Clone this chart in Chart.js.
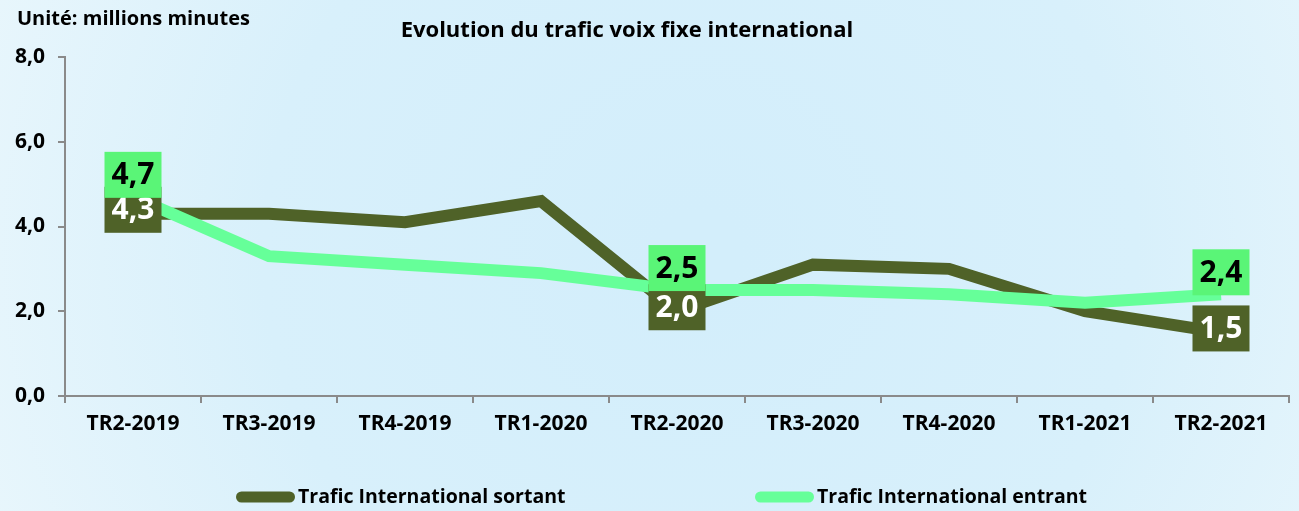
<!DOCTYPE html>
<html>
<head>
<meta charset="utf-8">
<script src="https://cdn.jsdelivr.net/npm/chart.js@4.4.1/dist/chart.umd.min.js"></script>
<style>
  html, body { margin: 0; padding: 0; background: #dcf1fb; }
  #wrap { position: relative; width: 1299px; height: 511px; }
  canvas { display: block; }
</style>
</head>
<body>
<div id="wrap"><canvas id="chart" width="1299" height="511"></canvas></div>
<script>
// Quarterly international fixed-voice traffic, millions of minutes
const categories = ['TR2-2019', 'TR3-2019', 'TR4-2019', 'TR1-2020', 'TR2-2020', 'TR3-2020', 'TR4-2020', 'TR1-2021', 'TR2-2021'];
const sortant = [4.3, 4.3, 4.1, 4.6, 2.0, 3.1, 3.0, 2.0, 1.5];
const entrant = [4.7, 3.3, 3.1, 2.9, 2.5, 2.5, 2.4, 2.2, 2.4];
const yTicks = [0, 2, 4, 6, 8];
const labelledPoints = [0, 4, 8];

const seriesNames = ['Trafic International sortant', 'Trafic International entrant'];
const chartTitle = 'Evolution du trafic voix fixe international';
const unitText = 'Unité: millions minutes';

const FONT = "'Open Sans', 'DejaVu Sans', sans-serif";
const DARK = '#4f6228';
const LIGHT = '#66ff99';
const LIGHT_BOX = '#5af577';
const AXIS = '#8a8a8a';

const fmt = v => Number(v).toFixed(1).replace('.', ',');

// soft light-blue backdrop
const backdrop = {
  id: 'backdrop',
  beforeDraw(chart) {
    const { ctx, width, height } = chart;
    ctx.save();
    const g = ctx.createRadialGradient(700, 250, 40, 700, 250, 760);
    g.addColorStop(0, '#d3eefb');
    g.addColorStop(0.55, '#d8f0fb');
    g.addColorStop(1, '#e8f6fc');
    ctx.fillStyle = g;
    ctx.fillRect(0, 0, width, height);
    ctx.restore();
  }
};

// title, unit caption and legend
const captions = {
  id: 'captions',
  afterDraw(chart) {
    const { ctx } = chart;
    ctx.save();
    ctx.fillStyle = '#000';
    ctx.textBaseline = 'alphabetic';
    ctx.font = `bold 20px ${FONT}`;
    ctx.textAlign = 'left';
    ctx.fillText(unitText, 17, 25);
    ctx.font = `bold 22px ${FONT}`;
    ctx.textAlign = 'center';
    ctx.fillText(chartTitle, 627, 37);

    const items = [
      { x: 236, color: DARK, text: seriesNames[0] },
      { x: 755, color: LIGHT, text: seriesNames[1] }
    ];
    const ly = 497;
    items.forEach(it => {
      ctx.strokeStyle = it.color;
      ctx.lineWidth = 11;
      ctx.lineCap = 'round';
      ctx.beginPath();
      ctx.moveTo(it.x + 5.5, ly);
      ctx.lineTo(it.x + 59 - 5.5, ly);
      ctx.stroke();
      ctx.fillStyle = '#000';
      ctx.textAlign = 'left';
      ctx.textBaseline = 'middle';
      ctx.font = `bold 19.5px ${FONT}`;
      ctx.fillText(it.text, it.x + 62, ly);
    });
    ctx.restore();
  }
};

// value boxes on the first, middle and last quarter
const valueBoxes = {
  id: 'valueBoxes',
  afterDatasetsDraw(chart) {
    const { ctx } = chart;
    const W = 57, H = 46;
    ctx.save();
    ctx.font = `bold 30px ${FONT}`;
    ctx.textAlign = 'center';
    ctx.textBaseline = 'middle';
    // outgoing traffic: box centred on the point
    const mOut = chart.getDatasetMeta(0);
    labelledPoints.forEach(i => {
      const p = mOut.data[i];
      const cy = p.y - 4;
      ctx.fillStyle = DARK;
      ctx.fillRect(p.x - W / 2, cy - H / 2, W, H);
      ctx.fillStyle = '#fff';
      ctx.fillText(fmt(sortant[i]), p.x, cy + 1);
    });
    // incoming traffic: box sitting above the point
    const mIn = chart.getDatasetMeta(1);
    labelledPoints.forEach(i => {
      const p = mIn.data[i];
      const bottom = p.y + 1;
      ctx.fillStyle = LIGHT_BOX;
      ctx.fillRect(p.x - W / 2, bottom - H, W, H);
      ctx.fillStyle = '#000';
      ctx.fillText(fmt(entrant[i]), p.x, bottom - H / 2 + 1);
    });
    ctx.restore();
  }
};

new Chart(document.getElementById('chart'), {
  type: 'line',
  data: {
    labels: categories,
    datasets: [
      {
        label: seriesNames[0],
        data: sortant,
        borderColor: DARK,
        backgroundColor: DARK,
        borderWidth: 12,
        pointRadius: 0,
        tension: 0,
        fill: false,
        borderJoinStyle: 'miter',
        order: 1
      },
      {
        label: seriesNames[1],
        data: entrant,
        borderColor: LIGHT,
        backgroundColor: LIGHT,
        borderWidth: 12,
        pointRadius: 0,
        tension: 0,
        fill: false,
        borderJoinStyle: 'miter',
        order: 0
      }
    ]
  },
  options: {
    responsive: false,
    animation: false,
    devicePixelRatio: 1,
    layout: { padding: { top: 57, right: 10, bottom: 65, left: 0 } },
    plugins: {
      legend: { display: false },
      title: { display: false },
      tooltip: { enabled: false }
    },
    scales: {
      x: {
        offset: true,
        grid: { offset: true, drawOnChartArea: false, drawTicks: true, tickLength: 7, color: AXIS, lineWidth: 2 },
        border: { display: true, color: AXIS, width: 2 },
        ticks: { color: '#000', font: { family: FONT, weight: 'bold', size: 21 }, padding: 8, maxRotation: 0, autoSkip: false },
        afterFit(s) { s.height = 50; }
      },
      y: {
        min: 0,
        max: 8,
        afterBuildTicks(s) { s.ticks = yTicks.map(v => ({ value: v })); },
        grid: { drawOnChartArea: false, drawTicks: true, tickLength: 7, color: AXIS, lineWidth: 2 },
        border: { display: true, color: AXIS, width: 2 },
        ticks: { color: '#000', font: { family: FONT, weight: 'bold', size: 21 }, padding: 13, callback: v => fmt(v) },
        afterFit(s) { s.width = 65; }
      }
    }
  },
  plugins: [backdrop, valueBoxes, captions]
});
</script>
</body>
</html>
